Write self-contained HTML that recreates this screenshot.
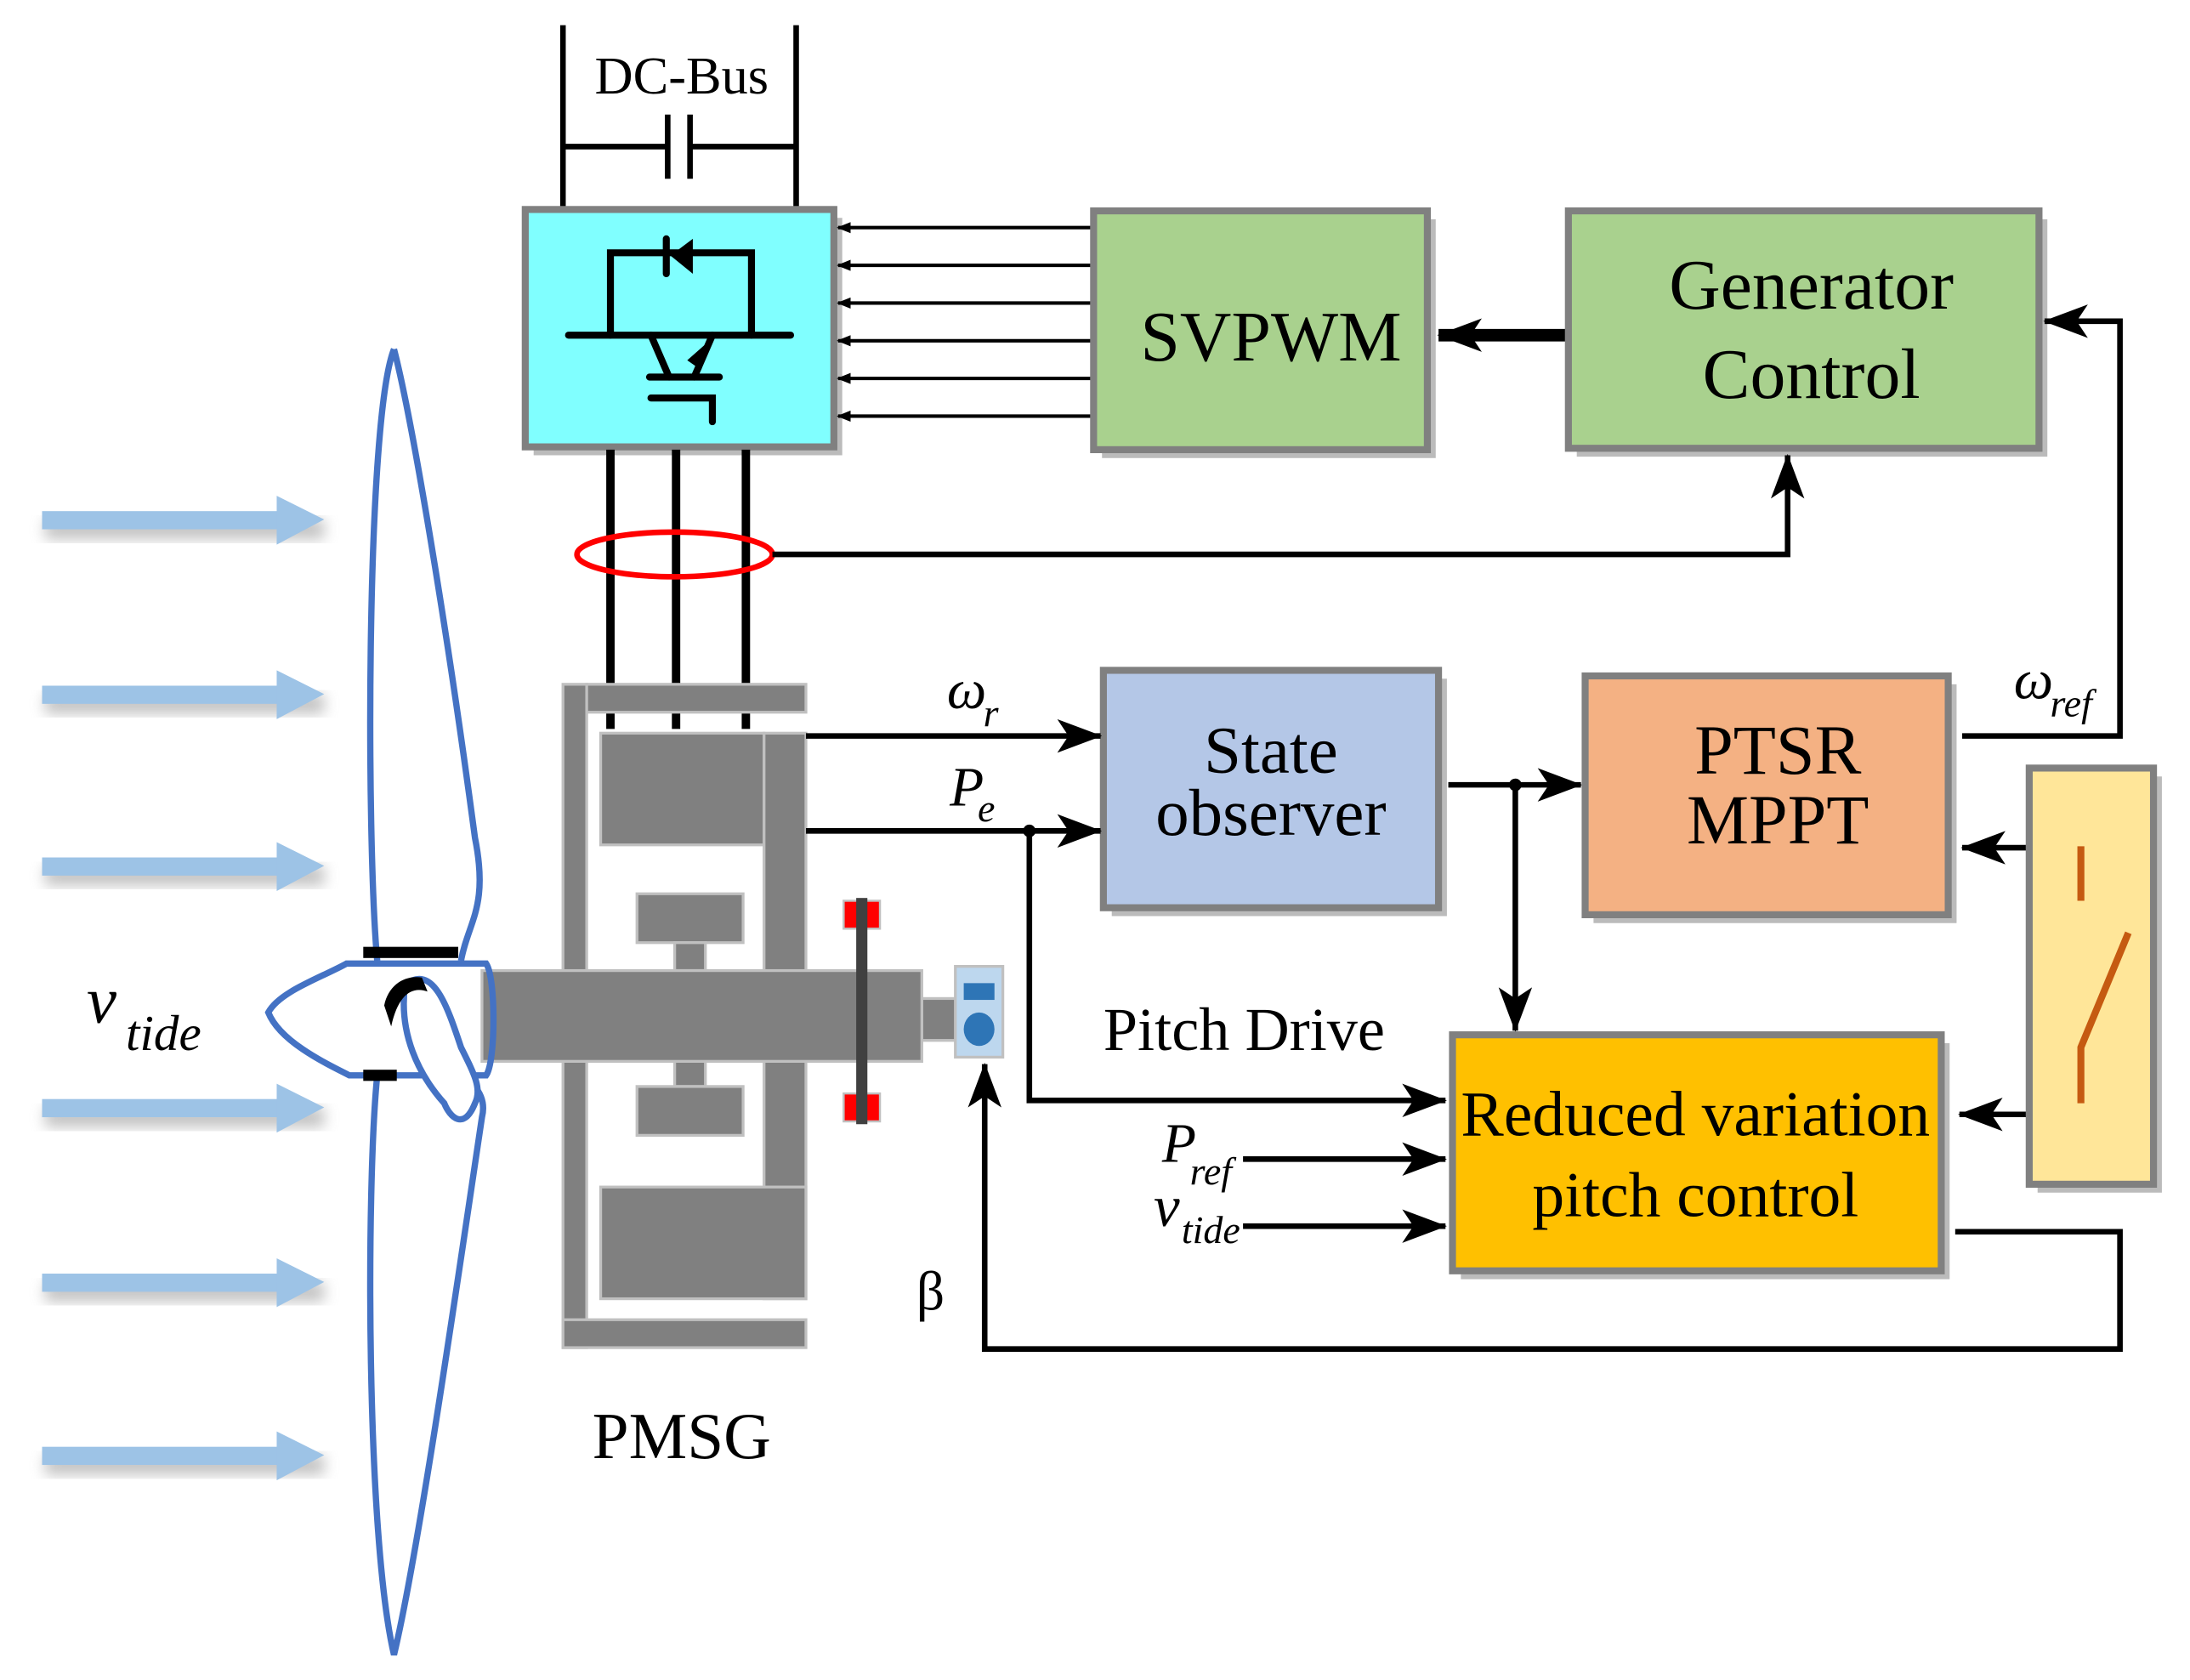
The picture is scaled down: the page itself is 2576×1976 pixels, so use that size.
<!DOCTYPE html>
<html><head><meta charset="utf-8"><style>html,body{margin:0;padding:0;background:#fff}svg{display:block}</style></head><body>
<svg width="2576" height="1976" viewBox="0 0 1568 1203" xmlns="http://www.w3.org/2000/svg" font-family="Liberation Serif, serif">
<defs>
<marker id="a" markerWidth="10" markerHeight="10" refX="9" refY="5" orient="auto" markerUnits="userSpaceOnUse"><path d="M0,1 L10,5 L0,9 Z" fill="#000"/></marker>
<marker id="b" markerWidth="32" markerHeight="24" refX="31" refY="12" orient="auto" markerUnits="userSpaceOnUse"><path d="M0,0 L32,12 L0,24 L8,12 Z" fill="#000"/></marker>
<filter id="s" x="-20%" y="-20%" width="140%" height="140%"><feGaussianBlur stdDeviation="5"/></filter>
</defs>
<g>
<g id="ar"><rect x="32" y="372" width="200" height="14" fill="#999" filter="url(#s)" opacity="0.6"/><rect x="30" y="366" width="170" height="13" fill="#9dc3e6"/><polygon points="198,355 232,372 198,390" fill="#9dc3e6"/></g>
<use href="#ar" y="125"/><use href="#ar" y="248"/><use href="#ar" y="421"/><use href="#ar" y="546"/><use href="#ar" y="670"/>
</g>
<text x="62" y="732" font-size="48" font-style="italic">v</text><text x="90" y="752" font-size="36" font-style="italic">tide</text>
<g stroke="#000" stroke-width="4" fill="none">
<line x1="403" y1="18" x2="403" y2="150"/><line x1="570" y1="18" x2="570" y2="150"/>
<line x1="403" y1="105" x2="478" y2="105"/><line x1="494" y1="105" x2="570" y2="105"/>
<line x1="478" y1="82" x2="478" y2="128"/><line x1="494" y1="82" x2="494" y2="128"/>
</g>
<text x="488" y="67" font-size="38" text-anchor="middle">DC-Bus</text>
<rect x="382" y="156" width="221" height="170" fill="#bbb"/>
<rect x="376" y="150" width="221" height="170" fill="#80ffff" stroke="#808080" stroke-width="5"/>
<g stroke="#000" stroke-width="5" fill="none" stroke-linecap="round">
<line x1="407" y1="240" x2="566" y2="240"/>
<polyline points="437,240 437,181 538,181 538,240"/>
<line x1="477" y1="171" x2="477" y2="196"/>
<line x1="466" y1="240" x2="479" y2="270"/>
<line x1="465" y1="270" x2="515" y2="270"/>
<line x1="510" y1="240" x2="497" y2="270"/>
<polyline points="466,285 510,285 510,302"/>
</g>
<polygon points="480,183 496,171 496,196" fill="#000"/>
<polygon points="509,243 492,258 502,265" fill="#000"/>
<g stroke="#000" stroke-width="2.5" marker-end="url(#a)">
<line x1="782" y1="163" x2="600" y2="163"/><line x1="782" y1="190" x2="600" y2="190"/><line x1="782" y1="217" x2="600" y2="217"/><line x1="782" y1="244" x2="600" y2="244"/><line x1="782" y1="271" x2="600" y2="271"/><line x1="782" y1="298" x2="600" y2="298"/>
</g>
<rect x="789" y="157" width="239" height="171" fill="#bbb"/>
<rect x="783" y="151" width="239" height="171" fill="#a9d18e" stroke="#808080" stroke-width="5"/>
<text x="910" y="258" font-size="51" text-anchor="middle">SVPWM</text>
<line x1="1122" y1="240" x2="1030" y2="240" stroke="#000" stroke-width="9" marker-end="url(#b)"/>
<rect x="1129" y="157" width="337" height="170" fill="#bbb"/>
<rect x="1123" y="151" width="337" height="170" fill="#a9d18e" stroke="#808080" stroke-width="5"/>
<text x="1297" y="221" font-size="51" text-anchor="middle">Generator</text>
<text x="1297" y="285" font-size="51" text-anchor="middle">Control</text>
<g stroke="#000" stroke-width="6"><line x1="437" y1="322" x2="437" y2="522"/><line x1="484" y1="322" x2="484" y2="522"/><line x1="534" y1="322" x2="534" y2="522"/></g>
<ellipse cx="483" cy="397" rx="70" ry="16" fill="none" stroke="#f00" stroke-width="4"/>
<polyline points="553,397 1280,397 1280,326" fill="none" stroke="#000" stroke-width="4" marker-end="url(#b)"/>
<polyline points="1405,527 1518,527 1518,230 1464,230" fill="none" stroke="#000" stroke-width="4" marker-end="url(#b)"/>
<g fill="#808080" stroke="#c0c0c0" stroke-width="2">
<rect x="403" y="490" width="17" height="475"/>
<rect x="420" y="490" width="157" height="20"/>
<rect x="403" y="945" width="174" height="20"/>
<rect x="430" y="525" width="117" height="80"/>
<rect x="547" y="525" width="30" height="405"/>
<rect x="430" y="850" width="147" height="80"/>
<rect x="456" y="640" width="76" height="35"/>
<rect x="483" y="675" width="22" height="20"/>
<rect x="483" y="760" width="22" height="18"/>
<rect x="456" y="778" width="76" height="35"/>
<rect x="660" y="715" width="25" height="30"/>
<rect x="345" y="695" width="315" height="65"/>
</g>
<rect x="604" y="645" width="26" height="20" fill="#f00" stroke="#c0c0c0" stroke-width="1.5"/>
<rect x="604" y="783" width="26" height="20" fill="#f00" stroke="#c0c0c0" stroke-width="1.5"/>
<rect x="613" y="643" width="8" height="162" fill="#404040"/>
<rect x="684" y="692" width="34" height="65" fill="#bdd7ee" stroke="#c0c0c0" stroke-width="2"/>
<rect x="690" y="704" width="22" height="12" fill="#2e75b6"/>
<ellipse cx="701" cy="737" rx="11" ry="12" fill="#2e75b6"/>
<g fill="none" stroke="#4472c4" stroke-width="4.5">
<path d="M282,250 C262,300 262,600 270,688 M330,688 C335,660 350,650 340,600 C320,450 295,300 282,250"/>
<path d="M270,770 C262,850 262,1100 282,1185 C300,1110 330,900 345,800 C350,780 330,770 330,770"/>
<path d="M248,690 L348,690 C355,700 355,760 348,770 L250,770 C230,760 200,745 192,725 C200,710 230,700 248,690 Z"/>
<path d="M290,705 C310,690 320,720 330,750 C340,770 345,780 340,790 C332,810 322,800 318,790 C300,770 285,740 290,705 Z" fill="#fff"/>
</g>
<path d="M275,720 C278,705 290,698 302,700 L306,710 C295,706 285,712 280,735 Z" fill="#000"/>
<rect x="260" y="678" width="68" height="8" fill="#000"/>
<rect x="260" y="766" width="24" height="8" fill="#000"/>
<text x="488" y="1044" font-size="47" text-anchor="middle">PMSG</text>
<rect x="796" y="486" width="240" height="170" fill="#bbb"/>
<rect x="790" y="480" width="240" height="170" fill="#b4c7e7" stroke="#808080" stroke-width="5"/>
<text x="910" y="553" font-size="48" text-anchor="middle">State</text>
<text x="910" y="598" font-size="48" text-anchor="middle">observer</text>
<g stroke="#000" stroke-width="4" fill="none">
<line x1="577" y1="527" x2="788" y2="527" marker-end="url(#b)"/>
<line x1="577" y1="595" x2="788" y2="595" marker-end="url(#b)"/>
<polyline points="737,595 737,788 1035,788" marker-end="url(#b)"/>
<line x1="1037" y1="562" x2="1132" y2="562" marker-end="url(#b)"/>
<line x1="1085" y1="562" x2="1085" y2="738" marker-end="url(#b)"/>
<line x1="1453" y1="607" x2="1405" y2="607" marker-end="url(#b)"/>
<line x1="1453" y1="798" x2="1403" y2="798" marker-end="url(#b)"/>
<line x1="890" y1="830" x2="1035" y2="830" marker-end="url(#b)"/>
<line x1="890" y1="878" x2="1035" y2="878" marker-end="url(#b)"/>
<polyline points="1400,882 1518,882 1518,966 705,966 705,762" marker-end="url(#b)"/>
</g>
<circle cx="737" cy="595" r="4.5"/><circle cx="1085" cy="562" r="4.5"/>
<text x="678" y="507" font-size="40" font-style="italic">ω</text><text x="704" y="520" font-size="28" font-style="italic">r</text>
<text x="680" y="577" font-size="40" font-style="italic">P</text><text x="700" y="588" font-size="28" font-style="italic">e</text>
<text x="1442" y="500" font-size="40" font-style="italic">ω</text><text x="1468" y="513" font-size="28" font-style="italic">ref</text>
<text x="832" y="832" font-size="40" font-style="italic">P</text><text x="852" y="848" font-size="28" font-style="italic">ref</text>
<text x="826" y="878" font-size="42" font-style="italic">v</text><text x="846" y="890" font-size="28" font-style="italic">tide</text>
<text x="790" y="752" font-size="44">Pitch Drive</text>
<text x="656" y="938" font-size="40">β</text>
<rect x="1141" y="490" width="260" height="171" fill="#bbb"/>
<rect x="1135" y="484" width="260" height="171" fill="#f4b183" stroke="#808080" stroke-width="5"/>
<text x="1273" y="554" font-size="50" text-anchor="middle">PTSR</text>
<text x="1273" y="604" font-size="50" text-anchor="middle">MPPT</text>
<rect x="1459" y="556" width="89" height="298" fill="#bbb"/>
<rect x="1453" y="550" width="89" height="298" fill="#ffe699" stroke="#808080" stroke-width="5"/>
<g stroke="#c55a11" stroke-width="5" fill="none"><line x1="1490" y1="606" x2="1490" y2="645"/><polyline points="1524,668 1490,750 1490,790"/></g>
<rect x="1046" y="747" width="350" height="169" fill="#bbb"/>
<rect x="1040" y="741" width="350" height="169" fill="#ffc000" stroke="#808080" stroke-width="5"/>
<text x="1214" y="813" font-size="46" text-anchor="middle">Reduced variation</text>
<text x="1214" y="871" font-size="46" text-anchor="middle">pitch control</text>
</svg>
</body></html>
